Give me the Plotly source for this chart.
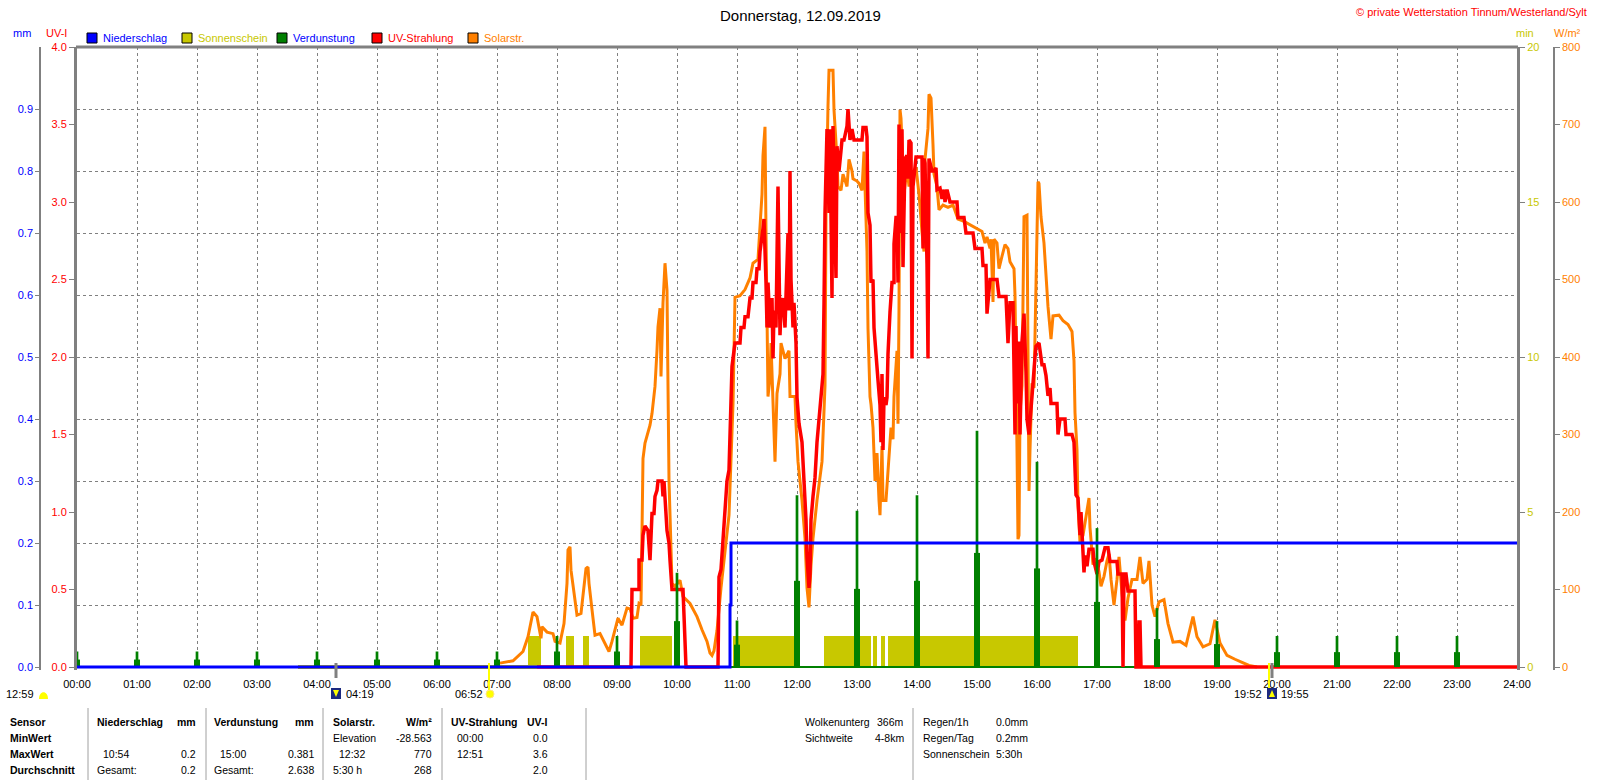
import plotly.graph_objects as go

W, H = 1600, 780
X0, X1 = 77, 1517      # plot area left / right (px)
YTOP, YZERO = 47, 667  # top of plot, zero line (px)
PAD = 3 / 620          # a little room under the zero line

FONT = "Liberation Sans"
GRAY = "#808080"
C_RAIN, C_SUN, C_EVAP, C_UV, C_SOL = "#0000ff", "#c8c800", "#008000", "#ff0000", "#ff8000"


def px(x):
    return x / W


def py(y):
    return 1 - y / H


def hrs(t):
    h, m = t.split(":")
    return int(h) + int(m) / 60


# ---- data ---------------------------------------------------------------
hour_labels = ["%02d:00" % h for h in range(25)]

# Niederschlag (mm, cumulative)
rain_time = ["00:00", "10:53", "10:54", "24:00"]
rain_mm = [0.0, 0.1, 0.2, 0.2]

# Verdunstung per hour (mm) and the lower, thicker part of each spike
evap_hour = list(range(24))
evap_mm = [0.025, 0.025, 0.025, 0.025, 0.025, 0.025, 0.025, 0.025, 0.05, 0.05, 0.152, 0.075,
           0.277, 0.252, 0.277, 0.381, 0.331, 0.224, 0.095, 0.074, 0.05, 0.05, 0.05, 0.05]
evap_low = [0.012, 0.012, 0.012, 0.012, 0.012, 0.012, 0.012, 0.012, 0.025, 0.025, 0.074, 0.036,
            0.139, 0.126, 0.139, 0.184, 0.159, 0.105, 0.045, 0.037, 0.024, 0.024, 0.024, 0.024]

# Sonnenschein blocks (min)
sun_start = ["07:31", "08:09", "08:26", "09:23", "10:56", "12:27", "13:16", "13:24", "13:31"]
sun_end = ["07:44", "08:17", "08:32", "09:55", "12:00", "13:14", "13:20", "13:28", "16:41"]
sun_min = [1, 1, 1, 1, 1, 1, 1, 1, 1]
sun_zero_time = ["03:41", "07:40"]

# Solarstrahlung (W/m²)
solar_time = [
    "07:03", "07:16", "07:26", "07:31", "07:36", "07:40", "07:44", "07:45", "07:50", "07:56", "07:58",
    "08:03", "08:07", "08:10", "08:11", "08:13", "08:14", "08:18", "08:20", "08:24", "08:26",
    "08:29", "08:31", "08:32", "08:35", "08:38", "08:43", "08:48", "08:52", "08:55", "08:58",
    "09:01", "09:05", "09:10", "09:13", "09:16", "09:20", "09:22", "09:24", "09:25", "09:26",
    "09:28", "09:30", "09:33", "09:35", "09:38", "09:40", "09:41", "09:43", "09:44", "09:46",
    "09:47", "09:48", "09:50", "09:51", "09:52", "09:55", "09:58",
    "10:03", "10:06", "10:13", "10:20", "10:25", "10:30", "10:33", "10:35", "10:37", "10:40",
    "10:44", "10:48", "10:52", "10:56", "10:58",
    "11:03", "11:08", "11:13", "11:16", "11:21", "11:23", "11:25", "11:26", "11:28", "11:29",
    "11:30", "11:31", "11:33", "11:34", "11:38", "11:40", "11:43", "11:44", "11:48", "11:52",
    "11:53", "11:58", "11:59",
    "12:01", "12:05", "12:08", "12:10", "12:12", "12:14", "12:16", "12:20", "12:25", "12:28",
    "12:29", "12:31", "12:32", "12:36", "12:37", "12:40", "12:41", "12:44", "12:46", "12:50",
    "12:52", "12:55", "12:56",
    "13:00", "13:02", "13:05", "13:07", "13:08", "13:10", "13:11", "13:13", "13:14", "13:16",
    "13:18", "13:20", "13:22", "13:23", "13:25", "13:26", "13:29", "13:31", "13:34", "13:36",
    "13:37", "13:40", "13:41", "13:42", "13:43", "13:44", "13:46", "13:47", "13:50", "13:52",
    "13:54", "13:56", "13:59",
    "14:02", "14:05", "14:07", "14:08", "14:11", "14:12", "14:14", "14:16", "14:17", "14:20",
    "14:22", "14:26", "14:31", "14:36", "14:41", "14:47", "14:53",
    "15:00", "15:05", "15:08", "15:10", "15:13", "15:14", "15:16", "15:17", "15:20", "15:22",
    "15:25", "15:28", "15:31", "15:33", "15:37", "15:38", "15:40", "15:41", "15:42", "15:43",
    "15:45", "15:46", "15:47", "15:50", "15:51", "15:52", "15:53", "15:55", "15:57", "15:59",
    "16:01", "16:02", "16:04", "16:07", "16:09", "16:11", "16:14", "16:16", "16:22", "16:26",
    "16:31", "16:35", "16:37", "16:38", "16:40", "16:41", "16:43", "16:46", "16:49", "16:52",
    "16:53", "16:56", "16:59",
    "17:02", "17:04", "17:07", "17:10", "17:12", "17:14", "17:17", "17:20", "17:22", "17:25",
    "17:28", "17:31", "17:35", "17:40", "17:43", "17:46", "17:50", "17:52", "17:55", "17:58",
    "18:02", "18:07", "18:11", "18:16", "18:23", "18:29", "18:35", "18:36", "18:40", "18:46",
    "18:53", "18:58",
    "19:03", "19:10", "19:18", "19:25", "19:32", "19:40"]
solar_wm2 = [
    5, 8, 20, 39, 71, 65, 37, 52, 45, 43, 33,
    31, 56, 108, 151, 155, 125, 86, 67, 69, 95,
    127, 129, 108, 74, 41, 43, 31, 20, 33, 48,
    63, 54, 76, 75, 63, 64, 82, 80, 168, 269,
    289, 299, 312, 327, 362, 409, 439, 463, 375, 470,
    508, 521, 486, 366, 241, 108, 104,
    112, 91, 82, 65, 48, 33, 18, 15, 21, 47,
    102, 146, 196, 339, 477,
    479, 487, 502, 521, 526, 571, 610, 660, 697, 561,
    408, 349, 373, 418, 265, 353, 378, 418, 398, 408,
    349, 349, 314,
    265, 215, 166, 102, 77, 131, 166, 215, 265, 363,
    586, 724, 770, 770, 719, 655, 620, 615, 636, 620,
    655, 640, 630,
    627, 624, 615, 665, 620, 536, 437, 349, 339, 309,
    240, 276, 215, 196, 285, 215, 215, 250, 309, 294,
    349, 408, 314, 462, 719, 708, 635, 610, 645, 620,
    636, 636, 645,
    610, 561, 536, 655, 695, 739, 734, 674, 636, 620,
    590, 596, 593, 596, 578, 575, 571,
    566, 562, 547, 555, 540, 552, 471, 552, 547, 514,
    530, 545, 540, 523, 514, 480, 280, 165, 170, 328,
    363, 447, 581, 583, 433, 227, 280, 366, 360, 514,
    626, 624, 581, 547, 504, 465, 423, 453, 454, 447,
    442, 433, 395, 328, 280, 208, 161, 170, 194, 218,
    180, 132, 140,
    123, 104, 117, 137, 146, 113, 80, 113, 142, 95,
    60, 89, 113, 113, 142, 108, 113, 137, 80, 65,
    84, 87, 56, 32, 33, 28, 61, 65, 39, 26,
    30, 61,
    31, 15, 10, 6, 2, 0]

# UV-Strahlung (UV-I)
uv_time = [
    "07:40", "09:14", "09:15", "09:22", "09:22", "09:25", "09:26", "09:28", "09:31", "09:33",
    "09:35", "09:37", "09:38", "09:40", "09:41", "09:45", "09:46", "09:47", "09:50", "09:52",
    "09:53", "09:55", "10:06", "10:08", "10:09", "10:41", "10:42", "10:44", "10:46", "10:48",
    "10:50", "10:52", "10:53", "10:55", "10:56", "10:58", "11:03", "11:04", "11:07", "11:08",
    "11:11", "11:13", "11:15", "11:16", "11:19", "11:20", "11:22", "11:23", "11:26", "11:27",
    "11:29", "11:30", "11:31", "11:33", "11:35", "11:36", "11:37", "11:39", "11:41", "11:42",
    "11:43", "11:44", "11:46", "11:48", "11:50", "11:51", "11:52", "11:53", "11:54", "11:56",
    "11:57", "11:59", "12:00", "12:02", "12:05", "12:07", "12:09", "12:10", "12:12", "12:13",
    "12:14", "12:16", "12:18", "12:20", "12:22", "12:24", "12:26", "12:27", "12:28", "12:30",
    "12:32", "12:33", "12:35", "12:36", "12:38", "12:39", "12:40", "12:42", "12:44", "12:45",
    "12:47", "12:50", "12:51", "12:53", "12:55", "12:57", "13:05", "13:06", "13:09", "13:10",
    "13:11", "13:13", "13:14", "13:16", "13:17", "13:19", "13:21", "13:23", "13:24", "13:25",
    "13:26", "13:27", "13:29", "13:30", "13:31", "13:33", "13:35", "13:37", "13:37", "13:39",
    "13:40", "13:41", "13:42", "13:43", "13:45", "13:46", "13:48", "13:50", "13:51", "13:52",
    "13:54", "13:55", "13:56", "13:59", "14:05", "14:06", "14:07", "14:08", "14:10", "14:11",
    "14:12", "14:15", "14:17", "14:19", "14:20", "14:23", "14:25", "14:27", "14:28", "14:30",
    "14:33", "14:40", "14:41", "14:47", "14:49", "14:56", "14:58", "15:05", "15:06", "15:09",
    "15:10", "15:13", "15:20", "15:22", "15:29", "15:31", "15:33", "15:36", "15:37", "15:38",
    "15:39", "15:40", "15:42", "15:43", "15:45", "15:47", "15:49", "15:50", "15:52", "15:54",
    "15:56", "15:58", "15:59", "16:02", "16:05", "16:07", "16:09", "16:11", "16:13", "16:14",
    "16:20", "16:21", "16:23", "16:28", "16:29", "16:35", "16:37", "16:38", "16:39", "16:41",
    "16:43", "16:44", "16:46", "16:47", "16:48", "16:50", "16:52", "16:56", "16:57", "17:00",
    "17:02", "17:05", "17:08", "17:11", "17:13", "17:20", "17:21", "17:25", "17:26", "17:27",
    "17:29", "17:31", "17:38", "17:39", "17:41", "17:42", "17:43", "17:44", "24:00"]
uv_index = [
    0.0, 0.0, 0.50, 0.50, 0.69, 0.69, 0.85, 0.91, 0.88, 0.69,
    0.99, 0.99, 1.10, 1.14, 1.20, 1.20, 1.10, 1.20, 0.88, 0.80,
    0.69, 0.50, 0.50, 0.24, 0.0, 0.0, 0.58, 0.63, 0.83, 1.02,
    1.20, 1.27, 1.57, 1.94, 1.99, 2.09, 2.09, 2.19, 2.19, 2.26,
    2.26, 2.38, 2.38, 2.48, 2.48, 2.57, 2.57, 2.68, 2.83, 2.89,
    2.48, 2.19, 2.48, 2.19, 2.38, 1.99, 2.30, 2.19, 3.10, 2.38,
    2.14, 2.30, 2.38, 2.19, 2.63, 2.80, 2.30, 3.20, 2.50, 2.19,
    2.35, 2.09, 1.74, 1.57, 1.45, 1.20, 0.95, 0.71, 0.51, 0.60,
    0.95, 1.10, 1.22, 1.45, 1.59, 1.74, 1.89, 2.34, 2.93, 3.47,
    2.93, 3.47, 2.38, 3.49, 2.90, 2.51, 3.36, 3.20, 3.33, 3.40,
    3.40, 3.49, 3.60, 3.40, 3.47, 3.40, 3.40, 3.48, 3.48, 3.42,
    2.93, 2.85, 2.48, 2.50, 2.19, 1.99, 1.85, 1.69, 1.45, 1.89,
    1.40, 1.74, 1.69, 1.74, 2.02, 2.29, 2.48, 2.48, 2.73, 2.90,
    2.90, 2.48, 3.50, 2.80, 3.47, 2.58, 3.28, 3.30, 3.15, 3.40,
    3.38, 1.99, 3.10, 3.29, 3.29, 2.70, 3.28, 3.25, 2.60, 1.99,
    3.28, 3.20, 3.20, 3.22, 3.08, 3.09, 3.02, 3.08, 3.00, 3.08,
    3.00, 3.00, 2.90, 2.90, 2.80, 2.80, 2.70, 2.70, 2.59, 2.59,
    2.28, 2.50, 2.50, 2.39, 2.39, 2.09, 2.35, 2.35, 1.83, 1.50,
    2.20, 1.70, 2.10, 1.50, 2.10, 2.28, 1.90, 1.60, 1.50, 1.70,
    1.83, 2.00, 2.07, 2.09, 1.95, 1.95, 1.88, 1.75, 1.80, 1.70,
    1.70, 1.50, 1.60, 1.60, 1.50, 1.50, 1.45, 1.28, 1.11, 1.09,
    0.85, 1.00, 0.68, 0.61, 0.72, 0.65, 0.76, 0.76, 0.68, 0.60,
    0.68, 0.69, 0.77, 0.77, 0.68, 0.68, 0.60, 0.60, 0.0, 0.60,
    0.60, 0.49, 0.49, 0.0, 0.0, 0.29, 0.29, 0.0, 0.0]

assert len(solar_time) == len(solar_wm2)
assert len(uv_time) == len(uv_index)

# ---- figure -------------------------------------------------------------
fig = go.Figure()

sun_x = [(hrs(a) + hrs(b)) / 2 for a, b in zip(sun_start, sun_end)]
sun_w = [hrs(b) - hrs(a) for a, b in zip(sun_start, sun_end)]
fig.add_trace(go.Bar(x=sun_x, y=sun_min, width=sun_w, marker=dict(color=C_SUN, line=dict(width=0)),
                     yaxis="y", name="Sonnenschein"))
fig.add_trace(go.Scatter(x=[0, 24], y=[0, 0], mode="lines", line=dict(color=C_EVAP, width=2), yaxis="y"))
fig.add_trace(go.Scatter(x=[hrs(t) for t in sun_zero_time], y=[0, 0], mode="lines",
                         line=dict(color=C_SUN, width=4), yaxis="y"))

fig.add_trace(go.Scatter(x=[hrs(t) for t in solar_time], y=solar_wm2, mode="lines",
                         line=dict(color=C_SOL, width=3), yaxis="y2", name="Solarstr."))
fig.add_trace(go.Scatter(x=[hrs(t) for t in uv_time], y=uv_index, mode="lines",
                         line=dict(color=C_UV, width=3.5), yaxis="y3", name="UV-Strahlung"))

fig.add_trace(go.Bar(x=evap_hour, y=evap_low, width=0.1, marker=dict(color=C_EVAP, line=dict(width=0)),
                     yaxis="y4", name="Verdunstung"))
fig.add_trace(go.Bar(x=evap_hour, y=evap_mm, width=0.045, marker=dict(color=C_EVAP, line=dict(width=0)),
                     yaxis="y4"))
fig.add_trace(go.Scatter(x=[hrs(t) for t in rain_time], y=rain_mm, mode="lines", line_shape="hv",
                         line=dict(color=C_RAIN, width=3), yaxis="y4", name="Niederschlag"))

ydom = [py(YZERO + 3), py(YTOP)]
tickfont = dict(family=FONT, size=11)

fig.update_layout(
    width=W, height=H,
    margin=dict(l=0, r=0, t=0, b=0, autoexpand=False),
    paper_bgcolor="white", plot_bgcolor="white",
    showlegend=False, barmode="overlay",
    font=dict(family=FONT, size=11, color="black"),
    xaxis=dict(domain=[px(X0), px(X1)], range=[0, 24], tickvals=list(range(25)), ticktext=hour_labels,
               showgrid=True, gridcolor=GRAY, griddash="3px,3px", gridwidth=1, zeroline=False,
               ticks="outside", ticklen=4, tickcolor="rgba(0,0,0,0)", tickfont=tickfont, showline=False),
    yaxis=dict(domain=ydom, range=[-20 * PAD, 20], side="right", anchor="x",
               tickvals=[0, 5, 10, 15, 20], tickfont=dict(family=FONT, size=11, color=C_SUN),
               ticks="outside", ticklen=5, tickcolor=GRAY, showgrid=False, zeroline=False,
               showline=True, linecolor=GRAY, linewidth=3),
    yaxis2=dict(overlaying="y", anchor="free", position=px(1554), side="right",
                range=[-800 * PAD, 800], tickvals=list(range(0, 801, 100)),
                tickfont=dict(family=FONT, size=11, color=C_SOL), ticks="outside", ticklen=5,
                tickcolor=GRAY, showgrid=False, zeroline=False, showline=True, linecolor=GRAY, linewidth=1.5),
    yaxis3=dict(overlaying="y", anchor="x", side="left", range=[-4 * PAD, 4],
                tickvals=[i * 0.5 for i in range(9)], tickformat=".1f",
                tickfont=dict(family=FONT, size=11, color=C_UV), ticks="outside", ticklen=5,
                tickcolor=GRAY, showgrid=False, zeroline=False, showline=True, linecolor=GRAY, linewidth=3),
    yaxis4=dict(overlaying="y", anchor="free", position=px(40), side="left", range=[-PAD, 1],
                tickvals=[i / 10 for i in range(10)], tickformat=".1f",
                tickfont=dict(family=FONT, size=11, color=C_RAIN), ticks="outside", ticklen=4,
                tickcolor=GRAY, showgrid=True, gridcolor=GRAY, griddash="3px,3px", gridwidth=1,
                zeroline=False, showline=True, linecolor=GRAY, linewidth=1.5),
)

shapes = []
ann = []


def text(x, y, s, color="black", anchor="left", size=11, bold=False):
    ann.append(dict(x=px(x), y=py(y), xref="paper", yref="paper", showarrow=False,
                    text=("<b>%s</b>" % s) if bold else s, xanchor=anchor, yanchor="middle",
                    font=dict(family=FONT, size=size, color=color)))


# top border of plot area
shapes.append(dict(type="line", xref="paper", yref="paper", x0=px(X0 - 1), x1=px(X1 + 1),
                   y0=py(YTOP), y1=py(YTOP), line=dict(color=GRAY, width=3)))

# title, copyright
text(800, 15, "Donnerstag, 12.09.2019", anchor="center", size=15)
text(1589, 12, "© private Wetterstation Tinnum/Westerland/Sylt", color=C_UV, anchor="right")

# axis units
text(22, 33, "mm", color=C_RAIN, anchor="center")
text(57, 33, "UV-I", color=C_UV, anchor="center")
text(1525, 33, "min", color=C_SUN, anchor="center")
text(1567, 33, "W/m²", color=C_SOL, anchor="center")

# legend
legend = [("Niederschlag", C_RAIN, C_RAIN, 87), ("Sonnenschein", C_SUN, C_SUN, 182),
          ("Verdunstung", C_EVAP, C_RAIN, 277), ("UV-Strahlung", C_UV, C_UV, 372),
          ("Solarstr.", C_SOL, C_SOL, 468)]
for name, box, col, lx in legend:
    shapes.append(dict(type="rect", xref="paper", yref="paper", x0=px(lx), x1=px(lx + 10),
                       y0=py(43), y1=py(33), fillcolor=box, line=dict(color="black", width=1)))
    text(lx + 14, 38, name, color=col)

# sun / twilight markers under the axis
for t, col, y1, wd in [("04:19", GRAY, 678, 3), ("06:52", "#ffff00", 690, 2),
                       ("19:52", "#ffff00", 690, 2), ("19:55", GRAY, 678, 3)]:
    shapes.append(dict(type="line", xref="x", yref="paper", x0=hrs(t), x1=hrs(t),
                       y0=py(663), y1=py(y1), line=dict(color=col, width=wd)))

text(4, 694, "12:59")
shapes.append(dict(type="path", xref="paper", yref="paper", fillcolor="#ffff00", line=dict(width=0),
                   path="M %f,%f C %f,%f %f,%f %f,%f Z" % (px(39), py(699), px(39), py(690),
                                                           px(48), py(690), px(48), py(699))))
for ix in (331, 1267):
    shapes.append(dict(type="rect", xref="paper", yref="paper", x0=px(ix), x1=px(ix + 10),
                       y0=py(699), y1=py(688), fillcolor="#1c2a80", line=dict(width=0)))
shapes.append(dict(type="path", xref="paper", yref="paper", fillcolor="#ffff00", line=dict(width=0),
                   path="M %f,%f L %f,%f L %f,%f Z" % (px(333), py(690), px(339), py(690), px(336), py(697))))
shapes.append(dict(type="path", xref="paper", yref="paper", fillcolor="#ffff00", line=dict(width=0),
                   path="M %f,%f L %f,%f L %f,%f Z" % (px(1269), py(697), px(1275), py(697), px(1272), py(690))))
text(344, 694, "04:19")
text(485, 694, "06:52", anchor="right")
shapes.append(dict(type="circle", xref="paper", yref="paper", x0=px(486), x1=px(494),
                   y0=py(698), y1=py(690), fillcolor="#ffff00", line=dict(color="#ffe680", width=1)))
text(1264, 694, "19:52", anchor="right")
text(1279, 694, "19:55")

# statistics table
TS = 10.5
R1, R2, R3, R4 = 722, 738, 754, 770
for sx in (88, 206, 323, 442, 586, 913):
    shapes.append(dict(type="line", xref="paper", yref="paper", x0=px(sx), x1=px(sx),
                       y0=py(708), y1=py(780), line=dict(color="#a0a0a0", width=1)))

for s, x, y in [("Sensor", 8, R1), ("MinWert", 8, R2), ("MaxWert", 8, R3), ("Durchschnitt", 8, R4),
                ("Niederschlag", 95, R1), ("Verdunstung", 212, R1), ("Solarstr.", 331, R1),
                ("UV-Strahlung", 449, R1)]:
    text(x, y, s, bold=True, size=TS)
for s, x in [("mm", 198), ("mm", 316), ("W/m²", 434), ("UV-I", 550)]:
    text(x, R1, s, anchor="right", bold=True, size=TS)

cells_left = [("Elevation", 331, R2), ("00:00", 455, R2),
              ("10:54", 101, R3), ("15:00", 218, R3), ("12:32", 337, R3), ("12:51", 455, R3),
              ("Gesamt:", 95, R4), ("Gesamt:", 212, R4), ("5:30 h", 331, R4),
              ("Wolkenunterg", 803, R1), ("Sichtweite", 803, R2),
              ("Regen/1h", 921, R1), ("Regen/Tag", 921, R2), ("Sonnenschein", 921, R3),
              ("0.0mm", 994, R1), ("0.2mm", 994, R2), ("5:30h", 994, R3)]
cells_right = [("-28.563", 434, R2), ("0.0", 550, R2),
               ("0.2", 198, R3), ("0.381", 316, R3), ("770", 434, R3), ("3.6", 550, R3),
               ("0.2", 198, R4), ("2.638", 316, R4), ("268", 434, R4), ("2.0", 550, R4),
               ("366m", 906, R1), ("4-8km", 906, R2)]
for s, x, y in cells_left:
    text(x, y, s, size=TS)
for s, x, y in cells_right:
    text(x, y, s, anchor="right", size=TS)

fig.update_layout(shapes=shapes, annotations=ann)

# the page's default body margin would shift the 1600x780 figure
fig.write_html("out.html", config={"displayModeBar": False},
               post_script="document.body.style.margin='0px';")
